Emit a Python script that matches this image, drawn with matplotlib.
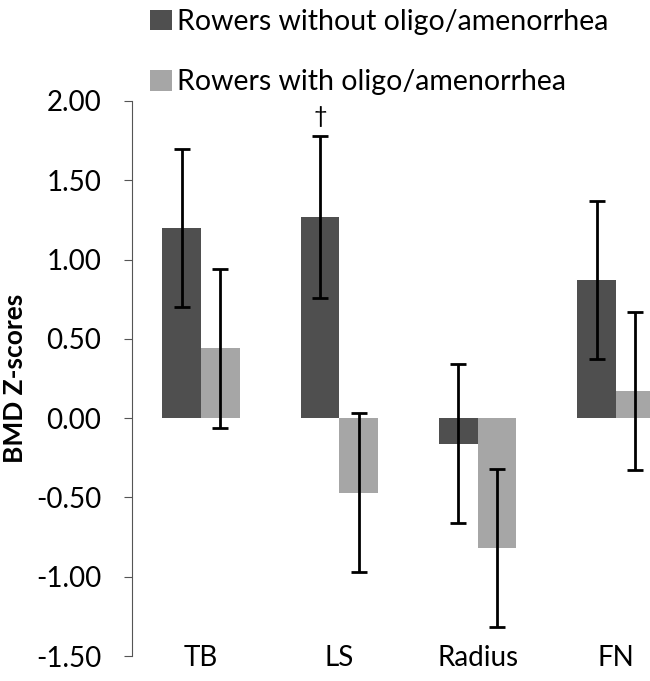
import matplotlib
matplotlib.use("Agg")
import matplotlib.pyplot as plt
import numpy as np

plt.rcParams["font.family"] = ["Lato", "DejaVu Sans"]

# data
sites = ["TB", "LS", "Radius", "FN"]
without_mean = [1.20, 1.27, -0.16, 0.87]
without_err = [0.50, 0.51, 0.50, 0.50]
with_mean = [0.44, -0.47, -0.82, 0.17]
with_err = [0.50, 0.50, 0.50, 0.50]
series_names = ["Rowers without oligo/amenorrhea", "Rowers with oligo/amenorrhea"]
yticks = [-1.5, -1.0, -0.5, 0.0, 0.5, 1.0, 1.5, 2.0]

dark = "#4f4f4f"
light = "#a6a6a6"

fig = plt.figure(figsize=(6.5, 6.81), dpi=100)
ax = fig.add_axes([0.203, 0.0367, 0.851, 0.815])

x = np.arange(len(sites))
w = 0.28
eb = dict(ecolor="black", elinewidth=2, capsize=5.5, capthick=2)
b1 = ax.bar(x - w / 2, without_mean, w, color=dark, yerr=without_err, error_kw=eb,
            label=series_names[0])
b2 = ax.bar(x + w / 2, with_mean, w, color=light, yerr=with_err, error_kw=eb,
            label=series_names[1])

# significance marker over LS
ax.text(x[1] - w / 2, without_mean[1] + without_err[1] + 0.12, "†",
        ha="center", va="center", fontsize=17)

ax.set_xlim(-0.5, 3.5)
ax.set_ylim(-1.5, 2.0)
ax.set_yticks(yticks)
ax.set_yticklabels([f"{v:.2f}" for v in yticks], fontsize=20)
ax.set_xticks(x)
ax.set_xticklabels(sites, fontsize=20)
ax.tick_params(axis="x", length=0, pad=-8)
ax.tick_params(axis="y", length=6, width=0.8, color="#555555", pad=16)

for s in ["top", "right", "bottom"]:
    ax.spines[s].set_visible(False)
ax.spines["left"].set_color("#555555")
ax.spines["left"].set_linewidth(0.8)

ax.set_ylabel("BMD Z-scores", fontsize=19, fontweight="bold")
ax.yaxis.set_label_coords(-0.19, 0.5)

fig.legend(handles=[b1, b2], loc="upper left", bbox_to_anchor=(0.205, 1.012),
           frameon=False, fontsize=20.5, handlelength=0.75, handleheight=0.75,
           handletextpad=0.2, labelspacing=1.2, borderpad=0.1)

fig.savefig("out.png", dpi=100)
